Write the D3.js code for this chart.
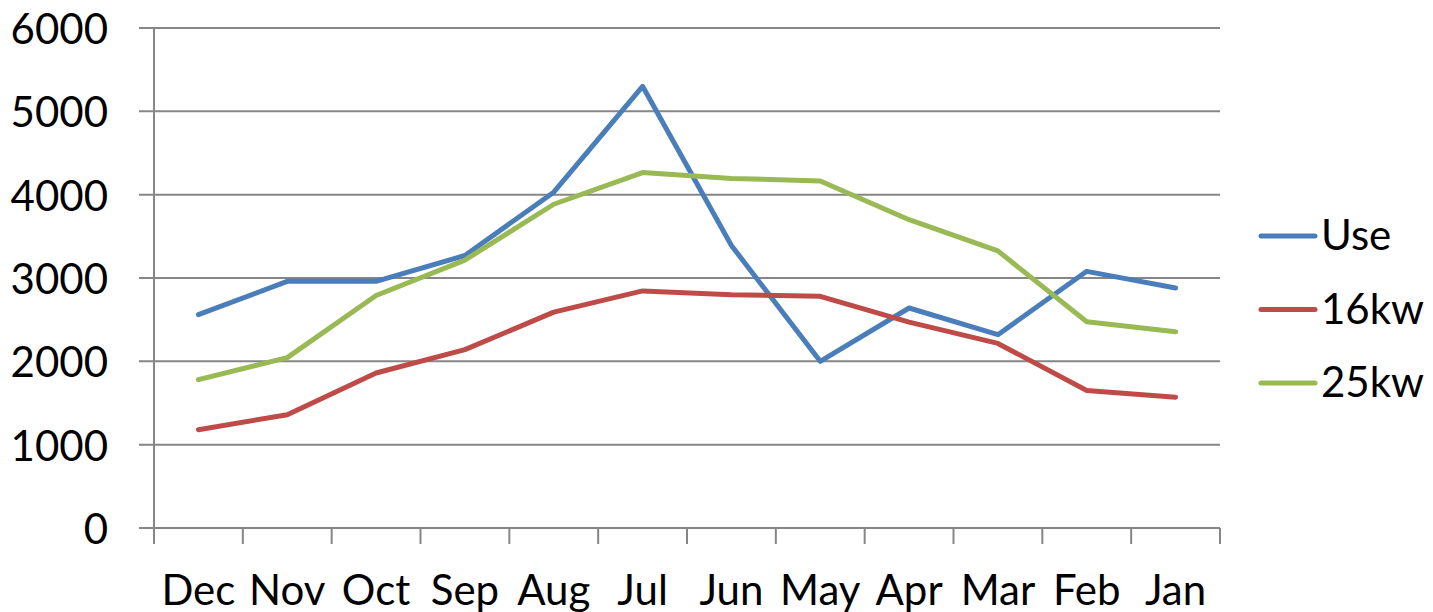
<!DOCTYPE html>
<html>
<head>
<meta charset="utf-8">
<script src="https://cdn.jsdelivr.net/npm/d3@7"></script>
<style>
  html, body { margin: 0; padding: 0; background: #fff; }
  svg { display: block; }
  text { font-family: Lato, "Open Sans", sans-serif; fill: #000; }
</style>
</head>
<body>
<svg id="chart" width="1433" height="612"></svg>
<script>
const months = ["Dec","Nov","Oct","Sep","Aug","Jul","Jun","May","Apr","Mar","Feb","Jan"];
const useVals = [2560, 2960, 2960, 3270, 4030, 5300, 3390, 2000, 2640, 2320, 3080, 2880];
const kw16Vals = [1180, 1360, 1860, 2140, 2590, 2845, 2800, 2780, 2470, 2215, 1650, 1570];
const kw25Vals = [1780, 2045, 2790, 3215, 3885, 4265, 4195, 4165, 3700, 3325, 2475, 2355];
const seriesNames = ["Use", "16kw", "25kw"];
const seriesColors = ["#4a7ebb", "#be4b48", "#98b954"];
const yTicks = [0, 1000, 2000, 3000, 4000, 5000, 6000];

const series = [useVals, kw16Vals, kw25Vals].map((vals, i) => ({
  name: seriesNames[i], color: seriesColors[i], values: vals
}));

const svg = d3.select("#chart");
const mLeft = 154, mRight = 1220, mTop = 28, mBottom = 528;

const x = d3.scaleBand().domain(months).range([mLeft, mRight]).paddingInner(0).paddingOuter(0);
const y = d3.scaleLinear().domain([0, 6000]).range([mBottom, mTop]);

const gridColor = "#868686";

// gridlines
svg.append("g").selectAll("line").data(yTicks).join("line")
  .attr("x1", mLeft - 15).attr("x2", mRight)
  .attr("y1", d => y(d)).attr("y2", d => y(d))
  .attr("stroke", gridColor).attr("stroke-width", 2);

// vertical axis line
svg.append("line")
  .attr("x1", mLeft).attr("x2", mLeft).attr("y1", mTop).attr("y2", mBottom + 16)
  .attr("stroke", gridColor).attr("stroke-width", 2);

// x tick marks at band boundaries
const bounds = months.map(m => x(m)).concat([mRight]);
svg.append("g").selectAll("line").data(bounds.slice(1)).join("line")
  .attr("x1", d => d).attr("x2", d => d)
  .attr("y1", mBottom).attr("y2", mBottom + 16)
  .attr("stroke", gridColor).attr("stroke-width", 2);

// y labels
svg.append("g").selectAll("text").data(yTicks).join("text")
  .attr("x", 108).attr("y", d => y(d))
  .attr("text-anchor", "end").attr("dominant-baseline", "central")
  .style("font-size", "42px")
  .text(d => d);

// x labels
svg.append("g").selectAll("text").data(months).join("text")
  .attr("x", d => x(d) + x.bandwidth() / 2).attr("y", 605)
  .attr("text-anchor", "middle")
  .style("font-size", "42px")
  .text(d => d);

// lines
const line = d3.line()
  .x((d, i) => x(months[i]) + x.bandwidth() / 2)
  .y(d => y(d));

svg.append("g").selectAll("path").data(series).join("path")
  .attr("d", d => line(d.values))
  .attr("fill", "none")
  .attr("stroke", d => d.color)
  .attr("stroke-width", 5)
  .attr("stroke-linejoin", "round")
  .attr("stroke-linecap", "round");

// legend
const lg = svg.append("g").selectAll("g").data(series).join("g")
  .attr("transform", (d, i) => `translate(0, ${250 + i * 73.5})`);
lg.append("line")
  .attr("x1", 1261).attr("x2", 1315).attr("y1", -14).attr("y2", -14)
  .attr("stroke", d => d.color).attr("stroke-width", 5).attr("stroke-linecap", "round");
lg.append("text")
  .attr("x", 1321).attr("y", 0)
  .style("font-size", "42px")
  .text(d => d.name);
</script>
</body>
</html>
